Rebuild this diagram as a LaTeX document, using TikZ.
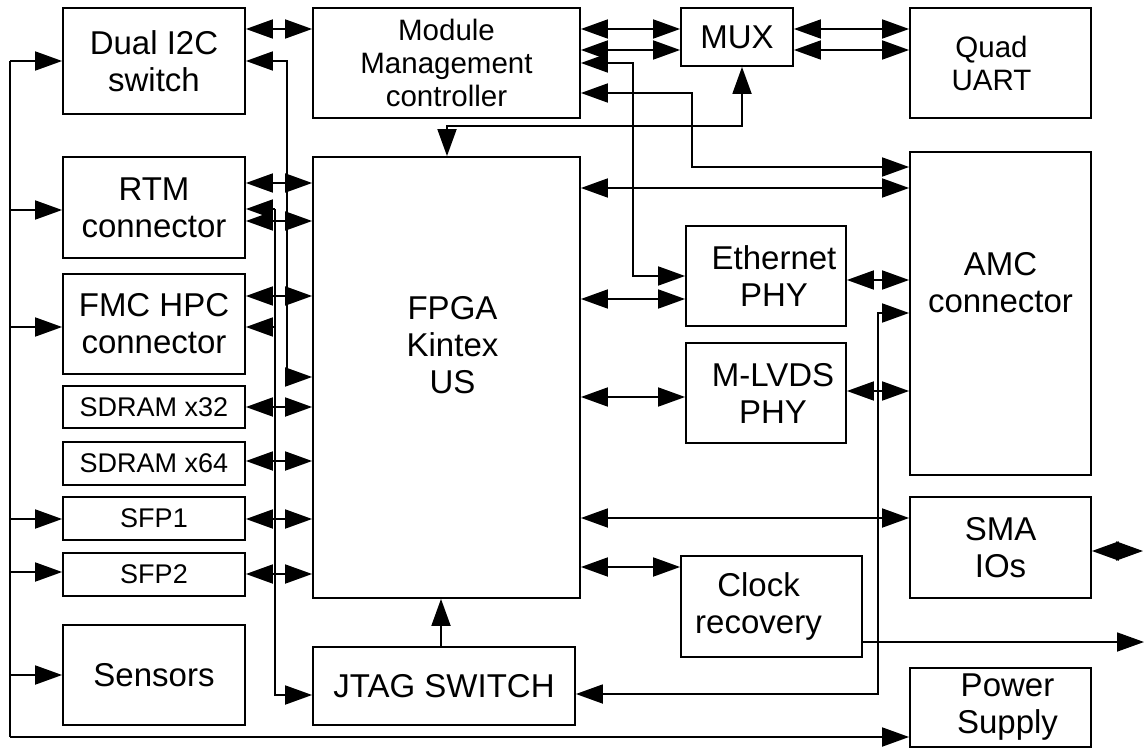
\documentclass[tikz,border=0pt]{standalone}
\usepackage{fontspec}
\setmainfont{Liberation Sans}
\usetikzlibrary{arrows.meta}

\tikzset{
  Tri/.tip={Triangle[length=27pt,width=19pt]},
  blk/.style={draw, line width=1.8pt, inner sep=0pt, align=center, font=\fontsize{33}{37}\selectfont},
  mblk/.style={blk, font=\fontsize{29.5}{33}\selectfont},
  sblk/.style={blk, font=\fontsize{27}{31}\selectfont},
  lbl/.style={inner sep=0pt, align=center, font=\fontsize{33}{37}\selectfont},
  wh/.style 2 args={minimum width=#1pt, minimum height=#2pt},
  bi/.style={line width=1.8pt, {Tri}-{Tri}},
  uni/.style={line width=1.8pt, -{Tri}},
}

\begin{document}
\begin{tikzpicture}[x=1pt, y=-1pt]
\useasboundingbox (0,0) rectangle (1145,749);

% left column
\node[blk, wh={182}{106}] (i2c) at (154,61) {Dual I2C\\switch};
\node[blk, wh={182}{101}] (rtm) at (154,207.5) {RTM\\connector};
\node[blk, wh={182}{100}] (fmc) at (154,324) {FMC HPC\\connector};
\node[sblk, wh={182}{42}] (sd32) at (154,407) {SDRAM x32};
\node[sblk, wh={182}{43}] (sd64) at (154,463.5) {SDRAM x64};
\node[sblk, wh={182}{43}] (sfp1) at (154,518.5) {SFP1};
\node[sblk, wh={182}{43}] (sfp2) at (154,574.5) {SFP2};
\node[blk, wh={182}{100}] (sens) at (154,675) {Sensors};

% middle
\node[mblk, wh={267}{110}] (mmc) at (446.5,63) {Module\\Management\\controller};
\node[blk, wh={267}{441}, label={[lbl, xshift=6pt, yshift=32pt]center:FPGA\\Kintex\\US}] (fpga) at (446.5,377.5) {};
\node[blk, wh={262}{78}] (jtag) at (444,686) {JTAG SWITCH};
\node[blk, wh={112}{58}] (mux) at (737,37) {MUX};
\node[blk, wh={160}{100}, label={[lbl, xshift=8pt]center:Ethernet\\PHY}] (eth) at (766,276) {};
\node[blk, wh={160}{100}, label={[lbl, xshift=7pt]center:M-LVDS\\PHY}] (lvds) at (766,393) {};
\node[blk, wh={181}{101}, label={[lbl, xshift=-13pt]center:Clock\\recovery}] (clk) at (771.5,606.5) {};

% right column
\node[blk, wh={181}{110}, label={[lbl, font=\fontsize{29.5}{33}\selectfont, xshift=-9pt]center:Quad\\UART}] (uart) at (1000.5,63) {};
\node[blk, wh={181}{323}, label={[lbl, yshift=31pt]center:AMC\\connector}] (amc) at (1000.5,313.5) {};
\node[blk, wh={181}{101}] (sma) at (1000.5,547.5) {SMA\\IOs};
\node[blk, wh={181}{79}, label={[lbl, xshift=7pt]center:Power\\Supply}] (pwr) at (1000.5,707.5) {};

\coordinate (bustop) at (10,61);
\coordinate (busbot) at (10,737);
\coordinate (jt) at (275,209);
\coordinate (clkout) at (1144,642);
\coordinate (smaout) at (1143,551);

% supply / control bus on the left
\draw[line width=1.8pt] (bustop) -- (busbot);
\draw[uni] (bustop) -- (i2c.west);
\foreach \n/\y in {rtm/210, fmc/327, sfp1/519, sfp2/572, sens/675}
  \draw[uni] (bustop |- 0,\y) -- (\n.west |- 0,\y);
\draw[uni] (busbot) -- (pwr.west |- busbot);

% left blocks to FPGA
\foreach \n/\y in {rtm/183, rtm/221, fmc/296, sd32/407, sd64/461, sfp1/519, sfp2/574}
  \draw[bi] (\n.east |- 0,\y) -- (fpga.west |- 0,\y);
\draw[bi] (i2c.east) -- (i2c.east -| 287,0) |- (fpga.west |- 0,377);

% JTAG lines
\draw[uni] (jt) -- (rtm.east |- jt);
\draw[uni] (jt |- 0,327) -- (fmc.east |- 0,327);
\draw[uni] (jt) |- (jtag.west |- 0,695);
\draw[uni] (jtag.north -| 441,0) -- (fpga.south -| 441,0);

% top row
\draw[bi] (i2c.east |- 0,29) -- (mmc.west |- 0,29);
\foreach \y in {29,50} {
  \draw[bi] (mmc.east |- 0,\y) -- (mux.west |- 0,\y);
  \draw[bi] (mux.east |- 0,\y) -- (uart.west |- 0,\y);
}
\draw[bi] (mmc.east |- 0,63) -| (eth.west -| 633,0) -- (eth.west);
\draw[bi] (mmc.east |- 0,93) -| (692,167) -- (amc.west |- 0,167);
\draw[bi] (mux.south -| 742,0) |- (447,126) -- (fpga.north -| 447,0);

% FPGA to the right side
\foreach \n/\y in {amc/188, eth/299, lvds/397, sma/518, clk/567}
  \draw[bi] (fpga.east |- 0,\y) -- (\n.west |- 0,\y);
\draw[bi] (eth.east |- 0,280) -- (amc.west |- 0,280);
\draw[bi] (lvds.east |- 0,391) -- (amc.west |- 0,391);
\draw[bi] (amc.west |- 0,313) -| (878,694) -- (jtag.east |- 0,694);

% outputs
\draw[uni] (clk.east |- clkout) -- (clkout);
\draw[bi] (sma.east |- smaout) -- (smaout);
\end{tikzpicture}
\end{document}
